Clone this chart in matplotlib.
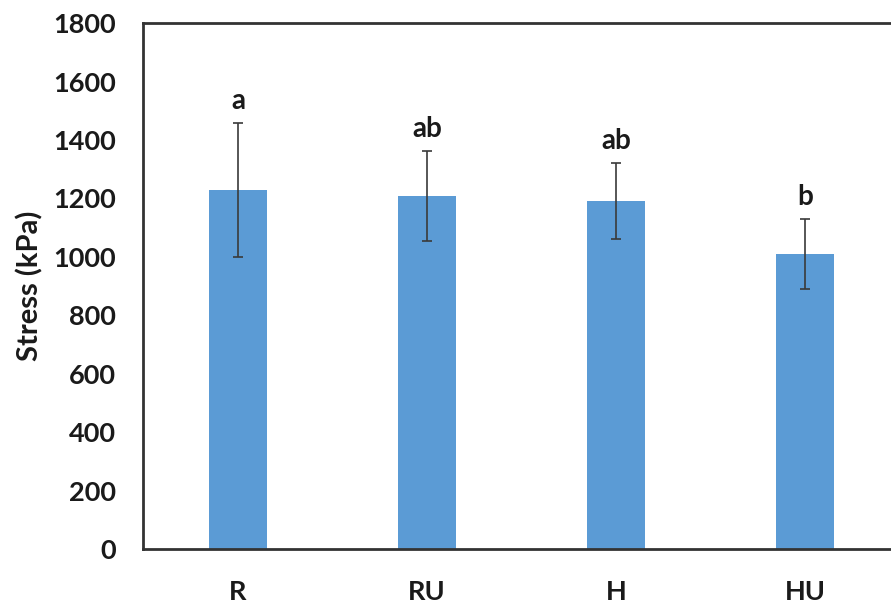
import matplotlib
matplotlib.use("Agg")
import matplotlib.pyplot as plt

# Mean stress per treatment with standard deviations and significance letters
treatments = ["R", "RU", "H", "HU"]
stress_mean = [1230, 1210, 1191, 1010]
stress_sd = [230, 154, 129, 120]
letters = ["a", "ab", "ab", "b"]
y_ticks = [0, 200, 400, 600, 800, 1000, 1200, 1400, 1600, 1800]

plt.rcParams["font.family"] = ["Lato", "DejaVu Sans"]
plt.rcParams["font.weight"] = "bold"

fig = plt.figure(figsize=(8.91, 6.05), dpi=100)
ax = fig.add_axes([0.161, 0.0926, 0.8485, 0.869])

x = list(range(len(treatments)))
ax.bar(x, stress_mean, width=0.31, color="#5B9BD5", zorder=2)
ax.errorbar(x, stress_mean, yerr=stress_sd, fmt="none", ecolor="#3a3a3a",
            elinewidth=1.2, capsize=3.5, capthick=1.2, zorder=3)

for xi, m, s, lab in zip(x, stress_mean, stress_sd, letters):
    ax.annotate(lab, xy=(xi, m + s), xytext=(0, 9), textcoords="offset pixels",
                ha="center", va="bottom", fontsize=20, fontweight="bold",
                color="#1a1a1a")

ax.set_xlim(-0.5, len(treatments) - 0.5)
ax.set_ylim(0, 1800)
ax.set_yticks(y_ticks)
ax.set_xticks(x)
ax.set_xticklabels(treatments)
ax.tick_params(axis="both", length=0, labelsize=19.5, colors="#1a1a1a")
ax.tick_params(axis="y", pad=20)
ax.tick_params(axis="x", pad=22)
for lbl in ax.get_xticklabels() + ax.get_yticklabels():
    lbl.set_fontweight("bold")

ax.set_ylabel("Stress (kPa)", fontsize=21, fontweight="bold", color="#1a1a1a",
              labelpad=7)

for side in ["left", "bottom", "top", "right"]:
    ax.spines[side].set_linewidth(2)
    ax.spines[side].set_color("#333333")

fig.savefig("out.png", dpi=100)
